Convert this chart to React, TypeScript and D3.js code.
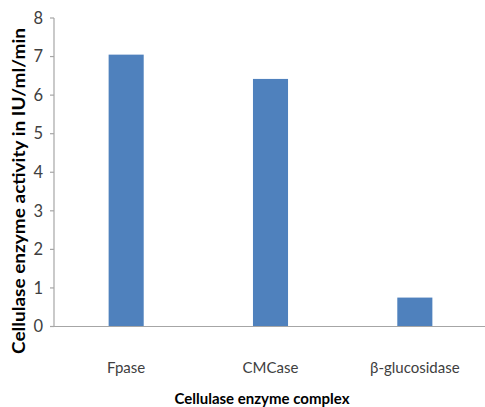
import * as d3 from 'd3'

const categories = ['Fpase', 'CMCase', 'β-glucosidase']
const activity = [7.05, 6.42, 0.75]
const yTicks = [0, 1, 2, 3, 4, 5, 6, 7, 8]

const width = 485
const height = 407
const margin = { top: 18, right: -2, bottom: 80, left: 54 }
const font = 'Lato, "Open Sans", sans-serif'

export default function App() {
  const x = d3
    .scaleBand()
    .domain(categories)
    .range([margin.left, width - margin.right])
    .padding(0)
  const y = d3
    .scaleLinear()
    .domain([0, 8])
    .range([height - margin.bottom - 0.5, margin.top])

  const barW = x.bandwidth() * 0.243
  const y0 = y(0)

  return (
    <div style={{ position: 'fixed', left: 0, top: 0 }}>
      <svg width={width} height={height} style={{ display: 'block', background: '#fff' }}>
        {categories.map((c, i) => (
          <rect
            key={c}
            x={x(c)! + (x.bandwidth() - barW) / 2}
            y={y(activity[i])}
            width={barW}
            height={y0 - y(activity[i])}
            fill="#4f81bd"
          />
        ))}
        {/* axes */}
        <line x1={margin.left} x2={margin.left} y1={y(8)} y2={y0} stroke="#a6a6a6" strokeWidth={1.2} />
        <line x1={margin.left - 4} x2={width} y1={y0} y2={y0} stroke="#a6a6a6" strokeWidth={1.2} />
        {yTicks.map((t) => (
          <g key={t}>
            <line x1={margin.left - 4} x2={margin.left} y1={y(t)} y2={y(t)} stroke="#a6a6a6" strokeWidth={1.2} />
            <text
              x={margin.left - 11}
              y={y(t)}
              dy="0.35em"
              textAnchor="end"
              fontFamily={font}
              fontSize={16.5}
              fill="#404040"
            >
              {t}
            </text>
          </g>
        ))}
        {categories.map((c) => (
          <text
            key={c}
            x={x(c)! + x.bandwidth() / 2}
            y={373}
            textAnchor="middle"
            fontFamily={font}
            fontSize={15}
            fill="#404040"
          >
            {c}
          </text>
        ))}
        <text
          x={262}
          y={404}
          textAnchor="middle"
          fontFamily={font}
          fontSize={14.5}
          fontWeight="bold"
          fill="#000"
          textLength={175}
          lengthAdjust="spacingAndGlyphs"
        >
          Cellulase enzyme complex
        </text>
        <text
          transform={`translate(25, 191) rotate(-90)`}
          textAnchor="middle"
          fontFamily={font}
          fontSize={16.5}
          fontWeight="bold"
          fill="#000"
          textLength={326}
          lengthAdjust="spacingAndGlyphs"
        >
          Cellulase enzyme activity in IU/ml/min
        </text>
      </svg>
    </div>
  )
}
